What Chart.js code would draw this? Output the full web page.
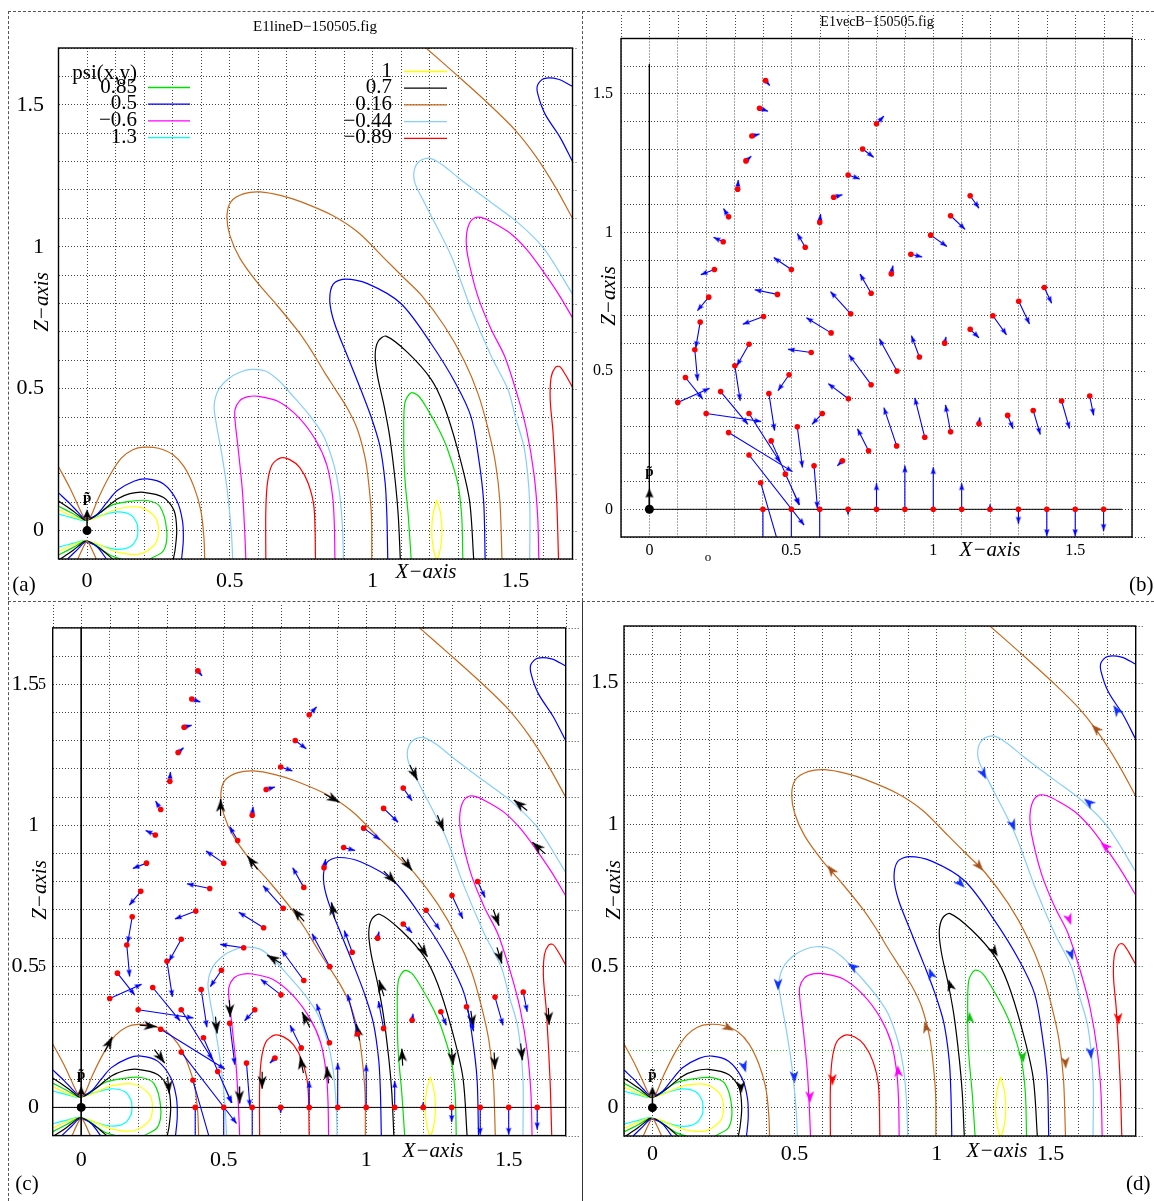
<!DOCTYPE html>
<html lang="en">
<head>
<meta charset="UTF-8">
<title>E1 line / vector fields</title>
<script src="https://cdn.jsdelivr.net/npm/chart.js"></script>
<style>
  body { margin: 0; background: #fff; }
  #fig { position: relative; width: 1154px; height: 1201px; overflow: hidden; background: #fff; }
  #fig canvas { position: absolute; }
  .rule { position: absolute; }
</style>
</head>
<body>
<div id="fig">
  <canvas id="panelA" width="582" height="601" style="left:0;top:0;width:582px;height:601px"></canvas>
  <canvas id="panelB" width="572" height="601" style="left:582px;top:0;width:572px;height:601px"></canvas>
  <canvas id="panelC" width="582" height="600" style="left:0;top:601px;width:582px;height:600px"></canvas>
  <canvas id="panelD" width="572" height="600" style="left:582px;top:601px;width:572px;height:600px"></canvas>

  <div class="rule" style="left:8px;top:11px;width:1146px;border-top:1px dashed #555"></div>
  <div class="rule" style="left:8px;top:11px;height:1190px;border-left:1px dashed #555"></div>
  <div class="rule" style="left:582px;top:11px;height:590px;border-left:1px dashed #555"></div>
  <div class="rule" style="left:582px;top:601px;height:600px;border-left:1px solid #333"></div>
  <div class="rule" style="left:8px;top:601px;width:1146px;border-top:1px dashed #555"></div>
</div>

<script>
const SERIF = "'Liberation Serif', 'Times New Roman', serif";
const AX_MIN = -0.1, AX_MAX = 1.7;

// tick labels: [value, text]
const stdTicks = [[0, '0'], [0.5, '0.5'], [1, '1'], [1.5, '1.5']];
const dTicksX = [[0, '0'], [0.5, '0.5'], [1, '1'], [1.4, '1.5']];

// ---- contour lines psi(x,z) ----
// psi = 0.16 (brown)
const psi016NearUp = [[-0.1,0.225],[-0.06,0.15],[-0.03,0.085],[-0.012,0.048],[0,0.038],[0.012,0.048],[0.04,0.115],[0.08,0.195],[0.12,0.255],[0.16,0.285],[0.2,0.294],[0.25,0.29],[0.3,0.268],[0.339,0.226],[0.374,0.155],[0.398,0.073],[0.409,-0.02],[0.412,-0.1]];
const psi016NearLow = [[-0.032,-0.1],[-0.015,-0.062],[0,-0.038],[0.015,-0.062],[0.032,-0.1]];
const psi016Loop = [[0.997,-0.1],[0.996,0.05],[0.987,0.16],[0.975,0.25],[0.947,0.356],[0.912,0.43],[0.868,0.5],[0.83,0.56],[0.785,0.635],[0.737,0.705],[0.66,0.8],[0.596,0.874],[0.535,0.96],[0.5,1.04],[0.49,1.11],[0.505,1.16],[0.55,1.187],[0.606,1.193],[0.68,1.18],[0.75,1.158],[0.86,1.11],[0.95,1.05],[1.04,0.96],[1.11,0.89],[1.17,0.83],[1.252,0.72],[1.32,0.6],[1.37,0.48],[1.404,0.36],[1.43,0.24],[1.446,0.1],[1.453,-0.1]];
const psi016Outer = [[1.187,1.7],[1.3,1.6],[1.415,1.495],[1.5,1.41],[1.571,1.319],[1.64,1.21],[1.7,1.1]];
// psi = 0.5 (blue)
const psi05NearUp = [[-0.1,0.133],[-0.06,0.095],[-0.032,0.065],[-0.01,0.043],[0.01,0.043],[0.037,0.059],[0.07,0.1],[0.106,0.141],[0.164,0.174],[0.21,0.182],[0.268,0.164],[0.314,0.106],[0.334,0.035],[0.337,-0.035],[0.331,-0.1]];
const psi05NearLow = [[-0.068,-0.1],[-0.032,-0.065],[-0.01,-0.043],[0.01,-0.043],[0.037,-0.059],[0.068,-0.1]];
const psi05Loop = [[1.053,-0.1],[1.05,0.05],[1.044,0.167],[1.025,0.3],[0.995,0.4],[0.959,0.496],[0.912,0.614],[0.866,0.732],[0.85,0.81],[0.862,0.868],[0.901,0.886],[0.982,0.87],[1.099,0.8],[1.204,0.66],[1.29,0.52],[1.345,0.4],[1.372,0.25],[1.389,0.1],[1.394,-0.1]];
const psi05Corner = [[1.7,1.565],[1.65,1.59],[1.6,1.592],[1.578,1.57],[1.578,1.54],[1.604,1.467],[1.656,1.386],[1.7,1.3]];
// psi = 0.7 (black)
const psi07NearUp = [[-0.1,0.104],[-0.05,0.07],[-0.02,0.046],[-0.009,0.038],[0.01,0.04],[0.048,0.065],[0.106,0.111],[0.15,0.13],[0.198,0.135],[0.268,0.117],[0.305,0.07],[0.314,0],[0.308,-0.07],[0.302,-0.1]];
const psi07NearLow = [[-0.1,-0.104],[-0.05,-0.07],[-0.02,-0.046],[-0.009,-0.038],[0.01,-0.04],[0.048,-0.065],[0.09,-0.1]];
const psi07Loop = [[1.097,-0.1],[1.09,0.05],[1.08,0.167],[1.06,0.33],[1.04,0.44],[1.017,0.545],[1.009,0.62],[1.02,0.668],[1.047,0.685],[1.123,0.627],[1.205,0.533],[1.25,0.44],[1.298,0.285],[1.339,0.108],[1.354,-0.1]];
// psi = 0.85 (green)
const psi085NearUp = [[-0.1,0.086],[-0.05,0.06],[-0.009,0.038],[0.02,0.045],[0.083,0.088],[0.15,0.103],[0.21,0.106],[0.255,0.085],[0.279,0],[0.268,-0.07],[0.221,-0.1]];
const psi085NearLow = [[-0.1,-0.086],[-0.05,-0.06],[-0.009,-0.038],[0.02,-0.045],[0.083,-0.088],[0.12,-0.1]];
const psi085Loop = [[1.135,-0.1],[1.125,0.05],[1.112,0.2],[1.109,0.35],[1.113,0.45],[1.134,0.485],[1.16,0.475],[1.193,0.426],[1.235,0.35],[1.263,0.285],[1.298,0.167],[1.312,0.05],[1.316,-0.1]];
// psi = 1 (yellow)
const psi1Near = [[-0.1,0.073],[-0.05,0.05],[-0.009,0.037],[0.03,0.045],[0.106,0.076],[0.187,0.082],[0.239,0.047],[0.25,0],[0.239,-0.047],[0.187,-0.082],[0.106,-0.076],[0.03,-0.045],[-0.009,-0.037],[-0.05,-0.05],[-0.1,-0.073]];
const psi1Loop = [[1.225,0.108],[1.238,0.06],[1.243,0],[1.238,-0.06],[1.225,-0.1],[1.212,-0.06],[1.207,0],[1.212,0.06],[1.225,0.108]];
// psi = 1.3 (cyan)
const psi13Near = [[-0.1,0.058],[-0.05,0.045],[-0.009,0.035],[0.048,0.053],[0.106,0.066],[0.152,0.056],[0.175,0.025],[0.178,0],[0.175,-0.025],[0.152,-0.056],[0.106,-0.066],[0.048,-0.053],[-0.009,-0.035],[-0.05,-0.045],[-0.1,-0.058]];
// psi = -0.44 (light blue)
const psiM044Low = [[0.51,-0.1],[0.505,0],[0.49,0.15],[0.47,0.28],[0.452,0.38],[0.445,0.44],[0.46,0.495],[0.495,0.535],[0.535,0.558],[0.575,0.568],[0.625,0.562],[0.672,0.528],[0.713,0.483],[0.784,0.4],[0.83,0.33],[0.865,0.23],[0.883,0.14],[0.894,0.02],[0.898,-0.1]];
const psiM044Up = [[1.55,-0.1],[1.55,0.1],[1.532,0.285],[1.5,0.4],[1.474,0.497],[1.415,0.615],[1.345,0.78],[1.275,0.968],[1.181,1.156],[1.148,1.225],[1.146,1.27],[1.165,1.302],[1.2,1.312],[1.245,1.288],[1.298,1.245],[1.36,1.197],[1.415,1.156],[1.509,1.085],[1.602,0.991],[1.7,0.833]];
// psi = -0.6 (magenta)
const psiM06Low = [[0.556,-0.1],[0.552,0],[0.544,0.14],[0.528,0.3],[0.519,0.38],[0.518,0.425],[0.535,0.458],[0.565,0.472],[0.6,0.473],[0.67,0.455],[0.74,0.4],[0.8,0.32],[0.84,0.23],[0.86,0.12],[0.866,0.02],[0.868,-0.1]];
const psiM06Up = [[1.582,-0.1],[1.578,0.05],[1.565,0.2],[1.54,0.35],[1.509,0.47],[1.462,0.615],[1.415,0.709],[1.368,0.827],[1.333,0.968],[1.328,1.03],[1.338,1.08],[1.36,1.103],[1.39,1.1],[1.43,1.08],[1.485,1.045],[1.54,0.99],[1.591,0.922],[1.65,0.835],[1.7,0.75]];
// psi = -0.89 (red)
const psiM089Low = [[0.626,-0.1],[0.626,0.07],[0.632,0.17],[0.648,0.232],[0.678,0.256],[0.71,0.25],[0.745,0.222],[0.775,0.165],[0.795,0.08],[0.8,-0.1]];
const psiM089Right = [[1.651,-0.1],[1.645,0.1],[1.632,0.344],[1.622,0.46],[1.625,0.54],[1.64,0.575],[1.655,0.578],[1.675,0.55],[1.7,0.505]];

// ---- B vectors: foot (red dot) and tip ----
const vecFrom = [
  [.409,1.548],[.388,1.448],[.361,1.348],[.340,1.258],[.311,1.156],[.279,1.056],[.260,.966],[.229,.866],[.209,.766],[.179,.676],[.160,.576],[.127,.476],[.100,.386],
  [.402,.696],[.351,.596],[.301,.518],[.451,.776],[.500,.866],[.549,.946],[.600,1.036],[.649,1.127],[.700,1.207],[.751,1.301],[.800,1.392],
  [.570,.566],[.640,.637],[.709,.706],[.781,.780],[.852,.850],[.921,.921],[.991,.990],[1.061,1.060],[1.130,1.132],
  [.492,.486],[.421,.418],[.781,.450],[.872,.499],[.951,.550],[1.040,.600],[1.130,.650],[1.210,.699],[1.301,.751],[1.391,.801],
  [.701,.399],[.609,.346],[.521,.298],[.580,.157],[.680,.175],[.772,.211],[.871,.229],[.970,.260],[1.061,.280],[1.161,.309],[1.262,.339],[1.352,.357],[1.452,.391],[1.551,.409],
  [.200,.346],[.251,.425],[.279,.277],[.351,.346],[.429,.247],[.351,.196],[.479,.127],[.392,.096],
  [.4,0],[.5,0],[.6,0],[.7,0],[.8,0],[.9,0],[1,0],[1.1,0],[1.2,0],[1.3,0],[1.4,0],[1.5,0],[1.6,0]
];
const vecTo = [
  [.424,1.530],[.418,1.437],[.388,1.355],[.359,1.275],[.313,1.189],[.261,1.086],[.226,.982],[.181,.847],[.169,.717],[.163,.582],[.170,.464],[.188,.398],[.212,.437],
  [.329,.668],[.308,.518],[.320,.392],[.371,.793],[.438,.909],[.521,.996],[.603,1.066],[.680,1.136],[.741,1.193],[.790,1.271],[.826,1.420],
  [.488,.578],[.553,.692],[.638,.786],[.742,.850],[.858,.880],[.961,.911],[1.048,.949],[1.112,1.011],[1.161,1.087],
  [.453,.428],[.441,.284],[.703,.558],[.810,.616],[.923,.627],[1.045,.623],[1.161,.619],[1.258,.630],[1.339,.669],[1.417,.744],
  [.630,.454],[.573,.307],[.539,.151],[.592,.003],[.662,.157],[.733,.291],[.826,.367],[.935,.402],[1.043,.377],[1.164,.332],[1.281,.291],[1.377,.270],[1.480,.291],[1.565,.339],
  [.394,.317],[.347,.307],[.504,.136],[.461,.169],[.527,.016],[.545,-.057],[.529,.016],[.456,-.13],
  [.4,-.13],[.5,-.13],[.6,-.13],[.7,-.02],[.8,.094],[.9,.158],[1,.152],[1.1,.094],[1.2,.018],[1.3,-.052],[1.4,-.097],[1.5,-.097],[1.6,-.078]
];

// ---- direction arrows on field lines ----
const cHeadPos = [[0.109,0.25],[0.265,0.286],[0.293,0.157],[0.309,0.049],[0.489,1.093],[0.583,0.892],[0.743,0.705],[0.906,1.082],[1.161,0.84],[0.965,0.296],[0.878,0.727],[1.104,0.795],[1.045,0.452],[1.215,0.534],[1.125,0.208],[1.305,0.15],[1.376,0.283],[1.452,0.135],[1.18,1.16],[1.272,0.98],[1.476,0.51],[1.548,0.167],[1.518,1.09],[1.583,0.94],[1.466,0.644],[1.642,0.293],[0.652,0.54],[0.477,0.262],[0.523,0.32],[0.556,0.014],[0.635,0.066],[0.775,0.338],[0.862,0.145],[0.768,0.18]];
const cHeadDir = [[0.5,1],[1,-0.1],[0.6,-0.8],[0.1,-1],[0,1],[-0.6,0.8],[-0.7,0.8],[1,-0.55],[0.7,-0.9],[-0.2,1],[-0.2,1],[0.8,-0.8],[-0.3,1],[0.6,-0.9],[-0.05,1],[0.1,-1],[0.15,-1],[0.05,-1],[0.5,-1],[0.4,-1],[0.3,-1],[0.1,-1],[-1,0.8],[-1,0.9],[0.35,-1],[0.05,-1],[-1,0.6],[0.1,-1],[0.05,-1],[0.02,-1],[0,-1],[-0.5,1],[-0.1,1],[-0.2,1]];

const dBrownPos = [[0.287,0.272],[0.616,0.856],[1.164,0.836],[1.454,0.137],[0.957,0.305],[1.545,1.352]];
const dBrownDir = [[1,-0.5],[-0.6,0.8],[0.7,-0.8],[0.05,-1],[-0.25,1],[-0.8,0.8]];
const dBluePos = [[0.329,0.124],[0.973,0.493],[1.099,0.776],[1.621,1.421],[0.442,0.413],[0.5,0.087],[0.687,0.51],[1.174,1.159],[1.276,0.977],[1.479,0.52],[1.544,0.171],[1.518,1.091]];
const dBlueDir = [[0.3,-1],[-0.35,1],[0.8,-0.8],[-0.6,0.9],[0,-1],[0.05,-1],[-1,0.7],[0.5,-1],[0.4,-1],[0.3,-1],[0.1,-1],[-1,0.8]];
const dBlackPos = [[0.313,0.05],[1.041,0.453],[1.215,0.534]];
const dBlackDir = [[0.05,-1],[-0.3,1],[0.6,-0.9]];
const dGreenPos = [[1.115,0.339],[1.305,0.157]];
const dGreenDir = [[-0.05,1],[0.1,-1]];
const dMagentaPos = [[0.554,0.016],[0.862,0.15],[1.473,0.644],[1.576,0.937]];
const dMagentaDir = [[0.02,-1],[-0.1,1],[0.35,-1],[-1,0.9]];
const dRedPos = [[0.633,0.077],[1.64,0.292]];
const dRedDir = [[0,-1],[0.05,-1]];

// dipole p at the origin
const dipole = [[0, 0]];
const dipoleShaft = [[0, 0], [0, 0.05]];
const dipoleTip = [[0, 0.075]];

// axis lines of the vector plots
const axisLinesB = [[0, 1.607], [0, 0], [1.665, 0]];
const axisLinesC = [[0, 1.7], [0, -0.1], null, [-0.1, 0], [1.7, 0]];

// legend (panel a)
const legendLeft = ['0.85', '0.5', '\u22120.6', '1.3'];
const legendRight = ['1', '0.7', '0.16', '\u22120.44', '\u22120.89'];

// ---- styles ----
const C = {
  green: '#00e000', blue: '#0000ff', magenta: '#ff00ff', cyan: '#00ffff', yellow: '#ffff00',
  black: '#000000', brown: '#c66a1e', light: '#87cefa', red: '#ff0000'
};
const legendLeftColors = [C.green, C.blue, C.magenta, C.cyan];
const legendRightColors = [C.yellow, C.black, C.brown, C.light, C.red];

const contourSet = [
  [psi016NearUp, C.brown], [psi016NearLow, C.brown], [psi016Loop, C.brown], [psi016Outer, C.brown],
  [psi05NearUp, C.blue], [psi05NearLow, C.blue], [psi05Loop, C.blue], [psi05Corner, C.blue],
  [psi07NearUp, C.black], [psi07NearLow, C.black], [psi07Loop, C.black],
  [psi085NearUp, C.green], [psi085NearLow, C.green], [psi085Loop, C.green],
  [psi1Near, C.yellow], [psi1Loop, C.yellow], [psi13Near, C.cyan],
  [psiM044Low, C.light], [psiM044Up, C.light],
  [psiM06Low, C.magenta], [psiM06Up, C.magenta],
  [psiM089Low, C.red], [psiM089Right, C.red]
];

// arrow head drawn with its tip at the image centre, pointing up
function headImage(color, len, half, notch) {
  const s = Math.ceil(2 * len + 4);
  const c = document.createElement('canvas');
  c.width = s; c.height = s;
  const g = c.getContext('2d');
  const m = s / 2;
  g.fillStyle = color;
  g.beginPath();
  g.moveTo(m, m);
  g.lineTo(m - half, m + len);
  g.lineTo(m, m + len * notch);
  g.lineTo(m + half, m + len);
  g.closePath();
  g.fill();
  return c;
}
const headVec = headImage(C.blue, 7, 2.6, 0.85);
const headBlackBig = headImage('#000', 13, 4.6, 0.72);
const headDipole = headImage('#000', 9, 4, 0.9);
const headD = {
  brown: headImage('#a4531c', 12, 4.4, 0.72), blue: headImage('#1030ff', 12, 4.4, 0.72),
  black: headImage('#000', 12, 4.4, 0.72), green: headImage('#10c010', 12, 4.4, 0.72),
  magenta: headImage('#ff00ff', 12, 4.4, 0.72), red: headImage('#ff0000', 12, 4.4, 0.72)
};

const pt = p => (p ? { x: p[0], y: p[1] } : { x: 0, y: null });
const angle = d => Math.atan2(d[0], d[1]) * 180 / Math.PI;

function curve(pts, color) {
  return { data: pts.map(pt), showLine: true, borderColor: color, borderWidth: 1.2,
           pointRadius: 0, tension: 0.3, order: 8 };
}
function polyline(pts, color, width, order) {
  return { data: pts.map(pt), showLine: true, borderColor: color, borderWidth: width,
           pointRadius: 0, tension: 0, order: order };
}
function segments(from, to, color, width, order) {
  const data = [];
  from.forEach((f, i) => { data.push(pt(f), pt(to[i]), { x: to[i][0], y: null }); });
  return { data, showLine: true, borderColor: color, borderWidth: width, pointRadius: 0,
           tension: 0, spanGaps: false, order: order };
}
function heads(pos, dirs, img, order) {
  return { data: pos.map(pt), showLine: false, pointStyle: img, pointRadius: 6,
           pointRotation: dirs.map(angle), order: order };
}
function dots(pos, color, r, order) {
  return { data: pos.map(pt), showLine: false, pointStyle: 'circle', pointRadius: r,
           pointBackgroundColor: color, pointBorderWidth: 0, order: order };
}

const contourDatasets = () => contourSet.map(([pts, col]) => curve(pts, col));
const dipoleDatasets = () => [
  polyline(dipoleShaft, '#000', 1.5, 0),
  heads(dipoleTip, [[0, 1]], headDipole, 0),
  dots(dipole, '#000', 4.5, 0)
];
const vectorDatasets = () => [
  segments(vecFrom, vecTo, C.blue, 1.1, 3),
  heads(vecTo, vecTo.map((t, i) => [t[0] - vecFrom[i][0], t[1] - vecFrom[i][1]]), headVec, 2),
  dots(vecFrom, C.red, 2.8, 1)
];

// ---- decorations: frame, grid extensions, text, legend ----
const decor = {
  id: 'decor',
  afterDraw(chart, args, o) {
    const { ctx, chartArea: a, scales: { x, y } } = chart;
    ctx.save();
    ctx.strokeStyle = '#444';
    ctx.lineWidth = 1;
    ctx.setLineDash([1, 2]);
    if (o.extTop != null) {
      x.ticks.forEach(t => {
        const px = Math.round(x.getPixelForValue(t.value)) + 0.5;
        ctx.beginPath(); ctx.moveTo(px, o.extTop); ctx.lineTo(px, a.top); ctx.stroke();
      });
    }
    if (o.extRight != null) {
      y.ticks.forEach(t => {
        const py = Math.round(y.getPixelForValue(t.value)) + 0.5;
        ctx.beginPath(); ctx.moveTo(a.right, py); ctx.lineTo(o.extRight, py); ctx.stroke();
      });
    }
    ctx.setLineDash([]);
    ctx.strokeStyle = '#000';
    ctx.lineWidth = 1.4;
    ctx.strokeRect(a.left, a.top, a.right - a.left, a.bottom - a.top);

    (o.texts || []).forEach(t => {
      const tx = t.dataX !== undefined ? x.getPixelForValue(t.dataX) : t.x;
      const ty = t.dataY !== undefined ? y.getPixelForValue(t.dataY) : t.y;
      ctx.save();
      ctx.translate(tx, ty);
      if (t.rot) ctx.rotate(t.rot);
      ctx.font = t.font;
      ctx.fillStyle = '#000';
      ctx.textAlign = t.align || 'center';
      ctx.textBaseline = 'middle';
      ctx.fillText(t.s, 0, 0);
      ctx.restore();
    });

    if (o.legend) {
      const L = o.legend;
      ctx.font = L.font;
      ctx.textAlign = 'right';
      ctx.textBaseline = 'middle';
      ctx.fillStyle = '#000';
      ctx.fillText(L.header, L.leftText, L.headerY);
      ctx.lineWidth = 1.3;
      const col = (labels, colors, textX, x0, x1, y0) => {
        labels.forEach((s, i) => {
          const yy = y0 + i * L.rowGap;
          ctx.fillStyle = '#000';
          ctx.fillText(s, textX, yy);
          ctx.strokeStyle = colors[i];
          ctx.beginPath(); ctx.moveTo(x0, yy + 0.5); ctx.lineTo(x1, yy + 0.5); ctx.stroke();
        });
      };
      col(legendLeft, legendLeftColors, L.leftText, L.leftLine[0], L.leftLine[1], L.leftY);
      col(legendRight, legendRightColors, L.rightText, L.rightLine[0], L.rightLine[1], L.rightY);
    }
    ctx.restore();
  }
};

function scaleOpts(size, pad, marks, gridColor, fit) {
  return {
    type: 'linear', min: AX_MIN, max: AX_MAX,
    ticks: {
      stepSize: 0.1, autoSkip: false, maxTicksLimit: 100, maxRotation: 0, minRotation: 0,
      padding: pad, color: '#000', font: { family: SERIF, size: size },
      callback: v => {
        const m = marks.find(k => Math.abs(k[0] - v) < 1e-6);
        return m ? m[1] : '';
      }
    },
    grid: { color: gridColor || '#444', lineWidth: 1, drawTicks: false },
    border: { display: false, dash: [1, 2] },
    afterFit: fit
  };
}

function makePanel(id, cfg) {
  const canvas = document.getElementById(id);
  const W = canvas.width, H = canvas.height;
  const [L, T, R, B] = cfg.area;
  return new Chart(canvas, {
    type: 'scatter',
    data: { datasets: cfg.datasets },
    options: {
      responsive: false, animation: false, events: [],
      layout: { padding: { left: 0, top: T, right: W - R, bottom: 0 } },
      plugins: { legend: { display: false }, tooltip: { enabled: false }, decor: cfg.decor },
      scales: {
        x: scaleOpts(cfg.size, cfg.padX, cfg.xMarks || stdTicks, cfg.gridX, s => { s.height = H - B; }),
        y: scaleOpts(cfg.size, cfg.padY, stdTicks, cfg.gridY, s => { s.width = L; })
      }
    },
    plugins: [decor]
  });
}

const italic = sz => `italic ${sz}px ${SERIF}`;
const roman = sz => `${sz}px ${SERIF}`;
const pLabel = { s: 'p\u0303', dataX: 0, dataY: 0.115, font: `bold 15px ${SERIF}` };

// (a) field lines
makePanel('panelA', {
  area: [58.5, 48, 572.5, 559], size: 22, padX: 9.5, padY: 14.5,
  datasets: [...dipoleDatasets(), ...contourDatasets()],
  decor: {
    extRight: 578,
    texts: [
      { s: 'E1lineD\u2212150505.fig', x: 315, y: 27, font: roman(15) },
      { s: 'X\u2212axis', x: 426, y: 572, font: italic(21) },
      { s: 'Z\u2212axis', x: 42, y: 302, font: italic(21), rot: -Math.PI / 2 },
      { s: '(a)', x: 24, y: 585, font: roman(21) },
      pLabel
    ],
    legend: {
      font: roman(21), header: 'psi(x,y)', headerY: 73, rowGap: 16.7,
      leftText: 137, leftLine: [148, 190], leftY: 87,
      rightText: 392, rightLine: [404, 447], rightY: 71
    }
  }
});

// (b) B vectors
makePanel('panelB', {
  area: [39, 38.5, 550, 537], size: 16, padX: 4.5, padY: 8,
  datasets: [polyline(axisLinesB, '#000', 1, 7), ...dipoleDatasets(), ...vectorDatasets()],
  decor: {
    extTop: 15, extRight: 564,
    texts: [
      { s: 'E1vecB\u2212150505.fig', x: 295, y: 22, font: roman(14) },
      { s: 'X\u2212axis', x: 408, y: 550, font: italic(21) },
      { s: 'Z\u2212axis', x: 27, y: 296, font: italic(21), rot: -Math.PI / 2 },
      { s: '(b)', x: 547, y: 585, font: roman(21), align: 'left' },
      { s: 'o', x: 126, y: 558, font: roman(13) },
      { s: 'p\u0303', dataX: 0, dataY: 0.135, font: `bold 15px ${SERIF}` }
    ]
  }
});

// (c) field lines with B vectors
makePanel('panelC', {
  area: [52.7, 25.2, 565.7, 534.6], size: 22, padX: 11, padY: 13.7,
  datasets: [
    polyline(axisLinesC, '#000', 1, 7),
    ...dipoleDatasets(), ...vectorDatasets(),
    segments(cHeadPos.map((p, i) => {
      const d = cHeadDir[i], n = Math.hypot(d[0], d[1]);
      return [p[0] - 0.06 * d[0] / n, p[1] - 0.06 * d[1] / n];
    }), cHeadPos, '#000', 1.2, 5),
    heads(cHeadPos, cHeadDir, headBlackBig, 4),
    ...contourDatasets()
  ],
  decor: {
    extTop: 4, extRight: 580,
    texts: [
      { s: 'X\u2212axis', x: 433, y: 550, font: italic(21) },
      { s: 'Z\u2212axis', x: 40, y: 289, font: italic(21), rot: -Math.PI / 2 },
      { s: '(c)', x: 27, y: 583, font: roman(21) },
      { s: '5', x: 46, dataY: 1.5, font: roman(16), align: 'right' },
      { s: '5', x: 46, dataY: 0.5, font: roman(16), align: 'right' },
      pLabel
    ]
  }
});

// (d) field lines with direction arrows
const near = (v, t) => Math.abs(v - t) < 1e-6;
makePanel('panelD', {
  area: [42, 25, 553.7, 535], size: 22, padX: 5, padY: 5.5, xMarks: dTicksX,
  gridX: ctx => (ctx.tick && near(ctx.tick.value, 1.1) ? '#3cb43c' : '#444'),
  gridY: ctx => (ctx.tick && near(ctx.tick.value, 0.2) ? '#3cb43c' : '#444'),
  datasets: [
    ...dipoleDatasets(),
    heads(dBrownPos, dBrownDir, headD.brown, 4),
    heads(dBluePos, dBlueDir, headD.blue, 4),
    heads(dBlackPos, dBlackDir, headD.black, 4),
    heads(dGreenPos, dGreenDir, headD.green, 4),
    heads(dMagentaPos, dMagentaDir, headD.magenta, 4),
    heads(dRedPos, dRedDir, headD.red, 4),
    ...contourDatasets()
  ],
  decor: {
    extRight: 562,
    texts: [
      { s: 'X\u2212axis', x: 415, y: 550, font: italic(21) },
      { s: 'Z\u2212axis', x: 32, y: 289, font: italic(21), rot: -Math.PI / 2 },
      { s: '(d)', x: 544, y: 583, font: roman(21), align: 'left' },
      pLabel
    ]
  }
});
</script>
</body>
</html>
